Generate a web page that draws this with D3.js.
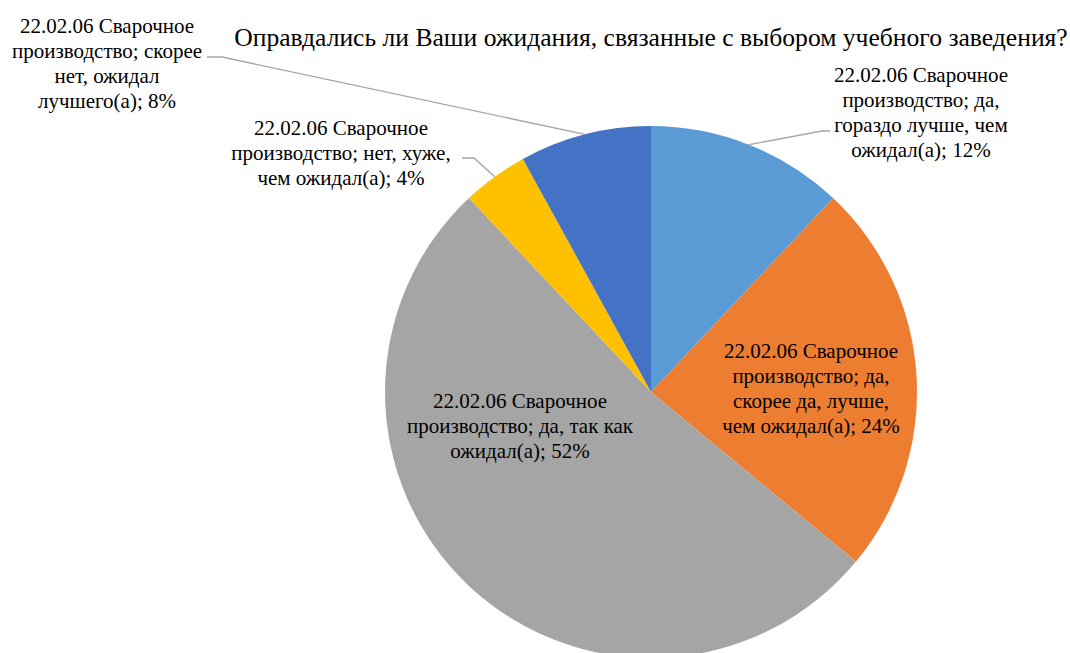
<!DOCTYPE html>
<html>
<head>
<meta charset="utf-8">
<script src="https://cdn.jsdelivr.net/npm/d3@7"></script>
<style>
  html, body { margin: 0; padding: 0; background: #fff; }
  svg { display: block; }
</style>
</head>
<body>
<svg id="chart" width="1070" height="653"></svg>
<script>
const title = "Оправдались ли Ваши ожидания, связанные с выбором учебного заведения?";
const categories = [
  "да, гораздо лучше, чем ожидал(а)",
  "да, скорее да, лучше, чем ожидал(а)",
  "да, так как ожидал(а)",
  "нет, хуже, чем ожидал(а)",
  "скорее нет, ожидал лучшего(а)"
];
const values = [12, 24, 52, 4, 8];
const colors = ["#5B9BD5", "#ED7D31", "#A5A5A5", "#FFC000", "#4472C4"];
const labelLines = [
  ["22.02.06 Сварочное", "производство; да,", "гораздо лучше, чем", "ожидал(а); 12%"],
  ["22.02.06 Сварочное", "производство; да,", "скорее да, лучше,", "чем ожидал(а); 24%"],
  ["22.02.06 Сварочное", "производство; да, так как", "ожидал(а); 52%"],
  ["22.02.06 Сварочное", "производство; нет, хуже,", "чем ожидал(а); 4%"],
  ["22.02.06 Сварочное", "производство; скорее", "нет, ожидал", "лучшего(а); 8%"]
];

const FONT = "Liberation Serif";
const svg = d3.select("#chart");
const cx = 651, cy = 392, r = 266;

const pie = d3.pie().sort(null).value(d => d)(values);
const arc = d3.arc().innerRadius(0).outerRadius(r);

const g = svg.append("g").attr("transform", `translate(${cx},${cy})`);
g.selectAll("path.slice").data(pie).join("path")
  .attr("class", "slice")
  .attr("d", arc)
  .attr("fill", (d, i) => colors[i]);

svg.append("text")
  .attr("x", 651).attr("y", 46)
  .attr("text-anchor", "middle")
  .attr("font-family", FONT)
  .attr("font-size", 25.6)
  .attr("fill", "#000")
  .text(title);

const labelPos = [
  {x: 921, y: 82, leader: [[830, 131], [822, 131]]},
  {x: 811, y: 358, leader: null},
  {x: 520, y: 408, leader: null},
  {x: 341, y: 135, leader: [[462, 158], [474, 158]]},
  {x: 107, y: 33, leader: [[207, 57], [222, 57]]}
];
const lineH = 25;

const midAngle = d => (d.startAngle + d.endAngle) / 2;
labelPos.forEach((p, i) => {
  if (p.leader) {
    const d = pie[i];
    const a = midAngle(d);
    const edge = [cx + r * Math.sin(a), cy - r * Math.cos(a)];
    svg.append("path")
      .attr("d", d3.line()([p.leader[0], p.leader[1], edge]))
      .attr("fill", "none")
      .attr("stroke", "#A6A6A6")
      .attr("stroke-width", 1.3);
  }
  const t = svg.append("text")
    .attr("text-anchor", "middle")
    .attr("font-family", FONT)
    .attr("font-size", 21)
    .attr("fill", "#000");
  labelLines[i].forEach((ln, k) => {
    t.append("tspan").attr("x", p.x).attr("y", p.y + k * lineH).text(ln);
  });
});
</script>
</body>
</html>
